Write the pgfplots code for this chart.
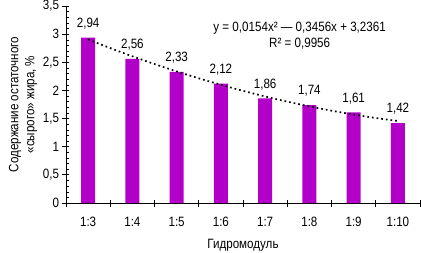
\documentclass[border=0pt]{standalone}
\usepackage{fontspec}
\setmainfont{Liberation Sans}[FakeStretch=0.86]
\usepackage{pgfplots}
\pgfplotsset{compat=1.18}
\definecolor{barc}{RGB}{178,0,200}
\newcommand\f{\fontsize{13.5bp}{16bp}\selectfont}
\begin{document}
\begin{tikzpicture}
\begin{axis}[
  scale only axis, width=354bp, height=197bp,
  at={(0,0)}, anchor=south west,
  xmin=0.5, xmax=8.5, ymin=0, ymax=3.5,
  axis x line=bottom, axis y line=left, axis line style={-, thick},
  xtick={0.5,1.5,...,8.5},
  x tick label as interval,
  xticklabels={1:3,1:4,1:5,1:6,1:7,1:8,1:9,1:10},
  ytick={0,0.5,...,3.5},
  minor y tick num=4,
  tick align=center,
  major tick length=7bp,
  minor tick length=3bp,
  every tick/.style={black, thick},
  minor y tick style={xshift=1.5bp, thin},
  /pgf/number format/assume math mode=true,
  /pgf/number format/use comma,
  yticklabel style={/pgf/number format/fixed},
  tick label style={font=\f},
  xticklabel style={yshift=-7bp},
  xlabel={Гидромодуль},
  every axis x label/.style={at={(axis description cs:0.5,0)}, yshift=-42bp, anchor=center, font=\f},
  ylabel={Содержание остаточного\\«сырого» жира, \%},
  every axis y label/.style={at={(axis description cs:0,0.5)}, xshift=-43bp, rotate=90, anchor=center, align=center, font=\f},
  clip=false,
]
\addplot[ybar, bar width=14bp, fill=barc, draw=none,
  nodes near coords,
  every node near coord/.append style={font=\f, black, anchor=south, yshift=5bp,
    /pgf/number format/fixed, /pgf/number format/fixed zerofill, /pgf/number format/precision=2, /pgf/number format/use comma}]
  coordinates {(1,2.94) (2,2.56) (3,2.33) (4,2.12) (5,1.86) (6,1.74) (7,1.61) (8,1.42)};
\addplot[black, line width=1.7pt, dash pattern=on 1.7pt off 3pt, smooth]
  coordinates {(1,2.9059) (1.5,2.75235) (2,2.6065) (2.5,2.46835) (3,2.3379) (3.5,2.21515) (4,2.1001) (4.5,1.99275) (5,1.8931) (5.5,1.80115) (6,1.7169) (6.5,1.64035) (7,1.5715) (7.5,1.51035) (8,1.4569)};
\node[font=\f, align=center] at (axis cs:5.78,2.98) {y = 0,0154x² — 0,3456x + 3,2361\\R² = 0,9956};
\end{axis}
\pgfresetboundingbox
\path[use as bounding box] (-66bp,-50bp) rectangle (355bp,203bp);
\end{tikzpicture}
\end{document}
